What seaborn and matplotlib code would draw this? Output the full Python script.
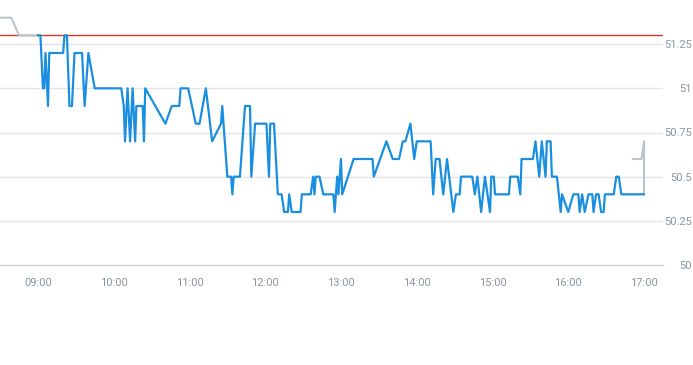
import matplotlib
matplotlib.use("Agg")
import matplotlib.pyplot as plt
import matplotlib.dates as mdates
import seaborn as sns
import pandas as pd

DAY = "2024-01-02 "

# Regular session (blue)
main_times = [
    "09:00", "09:02", "09:04", "09:05", "09:06", "09:08", "09:09", "09:20", "09:21", "09:23",
    "09:25", "09:27", "09:29", "09:35", "09:37", "09:40", "09:45", "10:06", "10:08", "10:09",
    "10:11", "10:13", "10:15", "10:17", "10:18", "10:23", "10:24", "10:25", "10:41", "10:46",
    "10:52", "10:53", "10:59", "11:05", "11:08", "11:13", "11:18", "11:25", "11:26", "11:30",
    "11:33", "11:34", "11:35", "11:40", "11:44", "11:48", "11:49", "11:52", "12:01", "12:03",
    "12:04", "12:07", "12:10", "12:13", "12:15", "12:18", "12:19", "12:21", "12:28", "12:29",
    "12:36", "12:38", "12:39", "12:40", "12:43", "12:46", "12:54", "12:55", "12:57", "12:58",
    "13:00", "13:01", "13:10", "13:25", "13:26", "13:36", "13:41", "13:46", "13:49", "13:51",
    "13:55", "13:58", "14:00", "14:11", "14:13", "14:15", "14:18", "14:21", "14:24", "14:29",
    "14:31", "14:34", "14:35", "14:44", "14:46", "14:48", "14:51", "14:54", "14:58", "14:59",
    "15:01", "15:02", "15:13", "15:14", "15:20", "15:22", "15:23", "15:32", "15:34", "15:37",
    "15:39", "15:42", "15:43", "15:46", "15:47", "15:51", "15:54", "15:55", "16:00", "16:04",
    "16:08", "16:09", "16:11", "16:13", "16:16", "16:19", "16:20", "16:22", "16:24", "16:26",
    "16:28", "16:29", "16:36", "16:38", "16:40", "16:42", "17:00",
]
main_prices = [
    51.3, 51.3, 51.0, 51.0, 51.2, 50.9, 51.2, 51.2, 51.3, 51.3,
    50.9, 50.9, 51.2, 51.2, 50.9, 51.2, 51.0, 51.0, 50.9, 50.7,
    51.0, 50.7, 51.0, 50.7, 50.9, 50.9, 50.7, 51.0, 50.8, 50.9,
    50.9, 51.0, 51.0, 50.8, 50.8, 51.0, 50.7, 50.8, 50.9, 50.5,
    50.5, 50.4, 50.5, 50.5, 50.9, 50.9, 50.5, 50.8, 50.8, 50.5,
    50.8, 50.8, 50.4, 50.4, 50.3, 50.3, 50.4, 50.3, 50.3, 50.4,
    50.4, 50.5, 50.4, 50.5, 50.5, 50.4, 50.4, 50.3, 50.5, 50.4,
    50.6, 50.4, 50.6, 50.6, 50.5, 50.7, 50.6, 50.6, 50.7, 50.7,
    50.8, 50.6, 50.7, 50.7, 50.4, 50.6, 50.6, 50.4, 50.6, 50.3,
    50.4, 50.4, 50.5, 50.5, 50.4, 50.5, 50.3, 50.5, 50.3, 50.5,
    50.5, 50.4, 50.4, 50.5, 50.5, 50.4, 50.6, 50.6, 50.7, 50.5,
    50.7, 50.5, 50.7, 50.7, 50.5, 50.5, 50.3, 50.4, 50.3, 50.4,
    50.4, 50.3, 50.4, 50.3, 50.4, 50.4, 50.3, 50.4, 50.4, 50.3,
    50.3, 50.4, 50.4, 50.5, 50.5, 50.4, 50.4,
]

# Pre-market (grey)
pre_times = ["08:30", "08:39", "08:45", "09:00"]
pre_prices = [51.4, 51.4, 51.3, 51.3]

# After-hours (grey)
post_times = ["16:51", "16:58", "17:00", "17:00"]
post_prices = [50.6, 50.6, 50.7, 50.4]

prev_close = 51.3
y_ticks = [50.0, 50.25, 50.5, 50.75, 51.0, 51.25]
y_labels = ["50", "50.25", "50.5", "50.75", "51", "51.25"]

def to_df(times, prices):
    return pd.DataFrame({"t": pd.to_datetime([DAY + t for t in times]), "p": prices})

main_df = to_df(main_times, main_prices)
pre_df = to_df(pre_times, pre_prices)
post_df = to_df(post_times, post_prices)

sns.set_style("white")
plt.rcParams["font.family"] = ["Roboto", "DejaVu Sans"]

fig = plt.figure(figsize=(6.93, 3.65), dpi=100)
ax = fig.add_axes([0.0, 100 / 365, 663 / 693, 265 / 365])

label_color = "#8a95a3"
grey = "#bcc3cb"
blue = "#1a8fe0"

for yv in y_ticks[1:]:
    ax.axhline(yv, color="#e3e5e8", lw=1.0, zorder=0)
ax.axhline(prev_close, color="#d93a30", lw=1.0, zorder=1)

sns.lineplot(data=pre_df, x="t", y="p", estimator=None, sort=False, color=grey, lw=1.5, ax=ax, zorder=2)
sns.lineplot(data=post_df, x="t", y="p", estimator=None, sort=False, color=grey, lw=1.5, ax=ax, zorder=2)
sns.lineplot(data=main_df, x="t", y="p", estimator=None, sort=False, color=blue, lw=1.6, ax=ax, zorder=3)

ax.set_xlim(pd.Timestamp(DAY + "08:30"), pd.Timestamp(DAY + "17:15"))
ax.set_ylim(50.0, 51.5)

ax.xaxis.set_major_locator(mdates.HourLocator(byhour=range(9, 18)))
ax.xaxis.set_major_formatter(mdates.DateFormatter("%H:%M"))
ax.tick_params(axis="x", length=4, width=1, color="#ccd3db", pad=5, labelsize=8, labelcolor=label_color)

ax.yaxis.tick_right()
ax.set_yticks(y_ticks)
ax.set_yticklabels(y_labels)
ax.tick_params(axis="y", length=0, pad=21, labelsize=8, labelcolor=label_color)
for lab in ax.get_yticklabels():
    lab.set_horizontalalignment("right")

ax.set_xlabel("")
ax.set_ylabel("")
for s in ["top", "left", "right"]:
    ax.spines[s].set_visible(False)
ax.spines["bottom"].set_color("#ccd3db")
ax.spines["bottom"].set_linewidth(1.0)
ax.grid(False)

fig.savefig("out.png", dpi=100)
